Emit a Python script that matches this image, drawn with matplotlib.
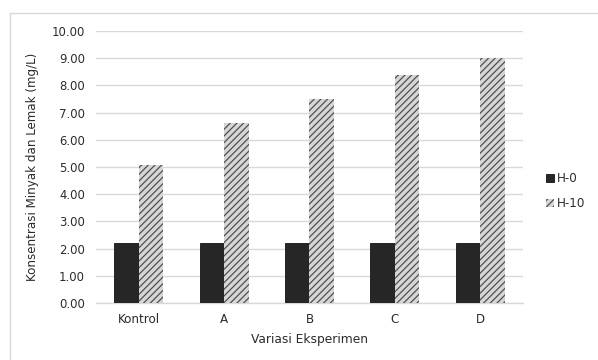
import numpy as np
import matplotlib
matplotlib.use('Agg')
import matplotlib.pyplot as plt
from matplotlib.lines import Line2D

# oil & grease concentration per treatment, day 0 and day 10
categories = ['Kontrol', 'A', 'B', 'C', 'D']
h0 = [2.22, 2.22, 2.22, 2.22, 2.22]
h10 = [5.08, 6.60, 7.50, 8.39, 9.00]
series_names = ['H-0', 'H-10']
yticks = [0, 1, 2, 3, 4, 5, 6, 7, 8, 9, 10]

plt.rcParams['font.family'] = 'DejaVu Sans'
plt.rcParams['hatch.linewidth'] = 0.9
plt.rcParams['hatch.color'] = '#505050'

txt = '#2b2b2b'

fig = plt.figure(figsize=(5.98, 3.6), dpi=100)
ax = fig.add_axes([0.1605, 0.1583, 0.714, 0.7556])

x = np.arange(len(categories))
width = 0.287

ax.bar(x - width / 2, h0, width, color='#262626', edgecolor='#111111',
       linewidth=0.6, label=series_names[0], zorder=3)
ax.bar(x + width / 2, h10, width, color='#d6d6d6', edgecolor='#505050',
       linewidth=0, hatch='/////', label=series_names[1], zorder=3)

ax.set_xlim(-0.5, len(categories) - 0.5)
ax.set_ylim(0, 10)
ax.set_yticks(yticks)
ax.set_yticklabels(['%.2f' % v for v in yticks], fontsize=8.4, color=txt)
ax.set_xticks(x)
ax.set_xticklabels(categories, fontsize=8.6, color=txt)
ax.tick_params(axis='both', length=0)
ax.tick_params(axis='y', pad=8)
ax.tick_params(axis='x', pad=7)

ax.yaxis.grid(True, color='#d9d9d9', linewidth=1, zorder=0)
ax.set_axisbelow(True)
for side in ['top', 'right', 'left']:
    ax.spines[side].set_visible(False)
ax.spines['bottom'].set_color('#d9d9d9')
ax.spines['bottom'].set_linewidth(1)

ax.set_xlabel('Variasi Eksperimen', fontsize=8.8, color=txt, labelpad=5)
ax.set_ylabel('Konsentrasi Minyak dan Lemak (mg/L)', fontsize=8.6,
              color=txt, labelpad=9)

fig.legend(loc='center left', bbox_to_anchor=(0.905, 0.469), frameon=False,
           fontsize=8.6, handlelength=0.7, handleheight=0.7,
           handletextpad=0.2, labelspacing=1.0, borderaxespad=0,
           labelcolor=txt)

# chart area border
fig.add_artist(Line2D([10 / 598, 10 / 598], [0, 1 - 13 / 360],
                      color='#d9d9d9', linewidth=1))
fig.add_artist(Line2D([10 / 598, 1], [1 - 13 / 360, 1 - 13 / 360],
                      color='#d9d9d9', linewidth=1))

fig.savefig('out.png', dpi=100)
